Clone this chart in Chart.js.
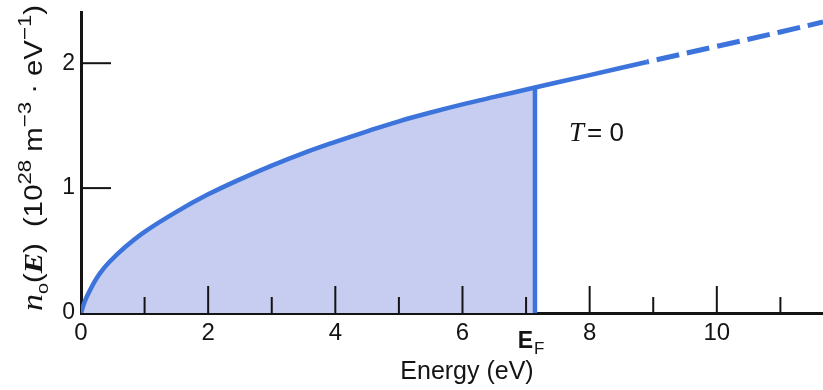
<!DOCTYPE html>
<html>
<head>
<meta charset="utf-8">
<script src="https://cdn.jsdelivr.net/npm/chart.js@4/dist/chart.umd.min.js"></script>
<style>
  html, body { margin: 0; padding: 0; background: #fff; overflow: hidden; }
  canvas { display: block; }
</style>
</head>
<body>
<canvas id="dos" width="823" height="390"></canvas>
<script>
// Density of occupied states n0(E) at T = 0 (free-electron model)
const energy  = [0, 0.05, 0.1, 0.2, 0.3, 0.45, 0.7, 1.0, 1.5, 2.0, 2.5, 3.0, 3.5, 4.0, 4.5, 5.0, 5.5, 6.0, 6.5, 7.14, 8.0, 8.9, 10.0, 11.0, 11.67];
const density = [0, 0.08, 0.14, 0.24, 0.32, 0.41, 0.53, 0.65, 0.81, 0.95, 1.07, 1.18, 1.28, 1.37, 1.455, 1.535, 1.605, 1.67, 1.73, 1.805, 1.905, 2.01, 2.135, 2.25, 2.33];
const fermiEnergy = 7.14;
const dashedFrom = 8.9;

const xTickValues = [0, 1, 2, 3, 4, 5, 6, 7, 8, 9, 10, 11];
const xTickLabels = ['0', '', '2', '', '4', '', '6', '', '8', '', '10', ''];
const yTickValues = [0, 1, 2];
const yTickLabels = ['0', '1', '2'];
const xLimits = [0, 11.67];
const yLimits = [0, 2.41];

const LINE = '#3c74dc';
const FILL = '#c6cdf0';
const INK = '#141414';
const SANS = '"Liberation Sans", Arial, sans-serif';
const SERIF = '"Liberation Serif", "Times New Roman", serif';

const curve = energy.map((e, i) => ({ x: e, y: density[i] }));
const occupied = curve.filter(p => p.x <= fermiEnergy);
const fermiIndex = energy.indexOf(fermiEnergy);
const fermiEdge = [
  { x: fermiEnergy, y: 0 },
  { x: fermiEnergy, y: density[fermiIndex] }
];

// tick marks pointing into the plot, plus the mixed-style labels
const decorations = {
  id: 'decorations',
  afterDatasetsDraw(chart) {
    const { ctx, chartArea: a, scales: { x, y } } = chart;
    ctx.save();
    ctx.strokeStyle = INK;
    ctx.lineWidth = 2;
    xTickValues.forEach(v => {
      if (v === 0) return;
      const px = x.getPixelForValue(v);
      const len = v % 2 === 0 ? 27 : 16;
      ctx.beginPath();
      ctx.moveTo(px, a.bottom);
      ctx.lineTo(px, a.bottom - len);
      ctx.stroke();
    });
    yTickValues.forEach(v => {
      if (v === 0) return;
      const py = y.getPixelForValue(v);
      ctx.beginPath();
      ctx.moveTo(a.left, py);
      ctx.lineTo(a.left + 30, py);
      ctx.stroke();
    });
    ctx.restore();
  },
  afterDraw(chart) {
    const { ctx, scales: { x } } = chart;
    ctx.save();
    ctx.fillStyle = INK;
    ctx.textBaseline = 'alphabetic';

    // E_F tick label
    const ef = x.getPixelForValue(fermiEnergy);
    ctx.font = 'bold 23px ' + SANS;
    ctx.textAlign = 'right';
    ctx.fillText('E', ef - 2, 348);
    ctx.font = '17px ' + SANS;
    ctx.textAlign = 'left';
    ctx.fillText('F', ef - 1, 354);

    // x axis title
    ctx.font = '25px ' + SANS;
    ctx.textAlign = 'center';
    ctx.fillText('Energy (eV)', 467, 379);

    // temperature note
    ctx.textAlign = 'left';
    ctx.font = 'italic 27px ' + SERIF;
    ctx.fillText('T', 569, 141);
    const tw = ctx.measureText('T').width;
    ctx.font = '26px ' + SANS;
    ctx.fillText('= 0', 569 + tw + 3, 141);

    // y axis title, rotated
    const parts = [
      { t: 'n', f: 'italic 29px ' + SERIF, dy: 0 },
      { t: 'o', f: '17px ' + SANS, dy: 6 },
      { t: '(', f: '25px ' + SANS, dy: 0 },
      { t: 'E', f: 'italic bold 26px ' + SERIF, dy: 0 },
      { t: ')', f: '25px ' + SANS, dy: 0 },
      { t: '  (10', f: '25px ' + SANS, dy: 0 },
      { t: '28', f: '19px ' + SANS, dy: -11 },
      { t: ' m', f: '25px ' + SANS, dy: 0 },
      { t: '\u22123', f: '19px ' + SANS, dy: -11 },
      { t: ' \u00b7 eV', f: '25px ' + SANS, dy: 0 },
      { t: '\u22121', f: '19px ' + SANS, dy: -11 },
      { t: ')', f: '25px ' + SANS, dy: 0 }
    ];
    let total = 0;
    parts.forEach(p => { ctx.font = p.f; p.w = ctx.measureText(p.t).width; total += p.w; });
    const span = 306;
    ctx.translate(42, 311);
    ctx.rotate(-Math.PI / 2);
    ctx.scale(span / total, 1);
    let cx = 0;
    parts.forEach(p => {
      ctx.font = p.f;
      ctx.fillText(p.t, cx, p.dy);
      cx += p.w;
    });
    ctx.restore();
  }
};

const beyondSolid = ctx => ctx.p0.parsed.x >= dashedFrom;

new Chart(document.getElementById('dos'), {
  type: 'line',
  data: {
    datasets: [
      {
        data: occupied,
        fill: 'origin',
        backgroundColor: FILL,
        borderWidth: 0,
        pointRadius: 0,
        tension: 0.4,
        order: 3
      },
      {
        data: curve,
        fill: false,
        borderColor: LINE,
        borderWidth: 4.5,
        pointRadius: 0,
        tension: 0.4,
        segment: {
          borderDash: ctx => beyondSolid(ctx) ? [23, 8] : undefined,
          borderDashOffset: ctx => beyondSolid(ctx) ? 21 : 0,
          borderWidth: ctx => beyondSolid(ctx) ? 5 : 4.5
        },
        order: 1
      },
      {
        data: fermiEdge,
        fill: false,
        borderColor: LINE,
        borderWidth: 4.5,
        pointRadius: 0,
        order: 2
      }
    ]
  },
  options: {
    responsive: false,
    animation: false,
    devicePixelRatio: 1,
    layout: { padding: { top: 12, right: 0, bottom: 0, left: 0 } },
    plugins: { legend: { display: false }, tooltip: { enabled: false } },
    scales: {
      x: {
        type: 'linear',
        min: xLimits[0],
        max: xLimits[1],
        z: 1,
        grid: { display: false, drawTicks: false },
        border: { display: true, color: INK, width: 3 },
        afterBuildTicks: s => { s.ticks = xTickValues.map(v => ({ value: v })); },
        afterFit: s => { s.height = 77; s.paddingLeft = 0; s.paddingRight = 0; },
        ticks: {
          autoSkip: false,
          maxRotation: 0,
          padding: 6,
          color: INK,
          font: { family: SANS, size: 24 },
          callback: (v, i) => xTickLabels[i]
        }
      },
      y: {
        min: yLimits[0],
        max: yLimits[1],
        z: 1,
        grid: { display: false, drawTicks: false },
        border: { display: true, color: INK, width: 3 },
        afterBuildTicks: s => { s.ticks = yTickValues.map(v => ({ value: v })); },
        afterFit: s => { s.width = 81; s.paddingTop = 0; s.paddingBottom = 0; },
        ticks: {
          autoSkip: false,
          padding: 6,
          color: INK,
          font: { family: SANS, size: 23 },
          callback: (v, i) => yTickLabels[i]
        }
      }
    }
  },
  plugins: [decorations]
});
</script>
</body>
</html>
